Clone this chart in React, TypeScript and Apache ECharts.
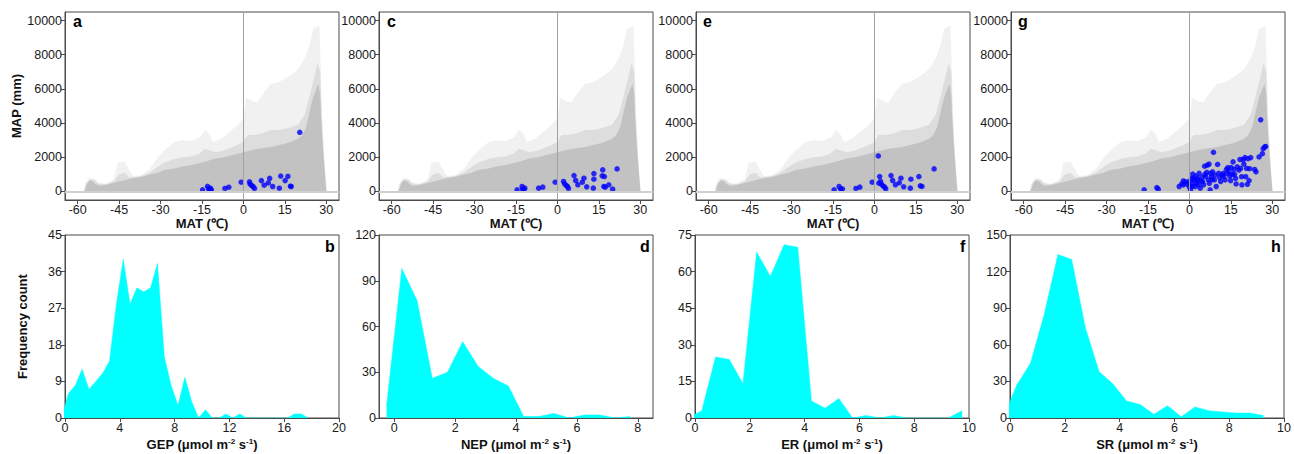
import React, { useEffect, useRef } from "react";
import * as echarts from "echarts";

// ---------- tick labels ----------
const matTicks = [-60, -45, -30, -15, 0, 15, 30];
const mapTicks = [0, 2000, 4000, 6000, 8000, 10000];

// ---------- global climate space (gray cloud envelopes) ----------
const cloudDenseMat = [-57.6, -57.2, -56.5, -55.5, -54.5, -53.5, -52, -50, -47, -45, -42, -40, -37, -34.6, -31, -28.6, -25, -22.5, -19, -16.5, -13, -10.4, -7, -4.3, -2, 0, 2.5, 5.3, 8, 10.1, 12.5, 14.9, 17, 19.8, 21, 22.2, 23, 24, 25.2, 26.4, 27.2, 27.8, 28.2, 28.7, 29.2, 29.6, 30];
const cloudDenseMap = [0, 150, 500, 650, 600, 420, 330, 380, 500, 580, 700, 770, 850, 960, 1100, 1250, 1350, 1440, 1550, 1630, 1780, 1920, 2000, 2115, 2200, 2300, 2400, 2500, 2560, 2600, 2700, 2790, 2900, 3080, 3250, 3560, 3950, 4700, 5500, 6000, 6300, 5600, 4130, 2800, 1630, 800, 0];
const cloudMidMat = [-57.7, -57, -55.5, -54, -52.5, -50, -47, -45, -43, -41.5, -40, -37, -34, -31, -28.6, -25, -22, -19, -16, -14, -12, -10, -7, -4, -1, 0, 1.5, 4, 7, 10, 13, 16, 19.8, 22.2, 24, 25.5, 26.8, 27.8, 28.3, 28.9, 29.5, 30.1];
const cloudMidMap = [0, 450, 720, 680, 450, 420, 580, 1000, 1100, 850, 830, 900, 1100, 1450, 1700, 1900, 2000, 2050, 2200, 2500, 2400, 2300, 2400, 2600, 2800, 2900, 3300, 3300, 3400, 3600, 3600, 3700, 3900, 4500, 5600, 6600, 7500, 7000, 4500, 2600, 1200, 0];
const cloudSparseMat = [-57.8, -57.5, -56, -54, -52.5, -50, -47, -45.5, -43, -41.5, -40, -37, -34, -31, -28.6, -25, -22, -18.8, -15.5, -14, -12.5, -11, -8, -5, -2, 0, 1, 3, 5, 7.5, 10, 13, 17, 20, 22.2, 24, 25.2, 27.5, 28, 28.5, 29.3, 30.2];
const cloudSparseMap = [0, 400, 780, 750, 520, 450, 700, 1700, 1750, 1300, 900, 950, 1300, 2000, 2400, 2900, 3000, 2950, 3200, 3600, 3400, 2900, 3100, 3500, 3900, 4300, 5500, 5300, 5200, 5800, 6300, 6400, 6800, 7200, 7800, 8600, 9500, 9700, 7200, 4500, 2000, 0];

// ---------- flux sites (blue points) ----------
const gepSiteMat = [-14.8, -13, -12.6, -12, -11.6, -12.2, -6.7, -5.3, -0.8, 2.2, 2.4, 2.9, 3.5, 4, 6.5, 7.5, 9, 9.5, 10.6, 13, 13.5, 15.1, 16.1, 17, 17.3, 20.4];
const gepSiteMap = [96, 300, 150, 200, 100, 120, 175, 250, 540, 560, 440, 350, 290, 175, 635, 365, 500, 770, 290, 190, 900, 635, 885, 310, 290, 3460];

const nepSiteMat = [-14.6, -12.8, -12.6, -11.8, -12.2, -6.8, -5.3, -0.8, 2.2, 2.6, 3.2, 3.6, 4, 6, 6.6, 7.4, 9, 9.6, 10.6, 13, 13.2, 13.2, 16.4, 16.2, 17, 16.8, 17.3, 18.6, 20, 21.6];
const nepSiteMap = [97, 290, 136, 194, 100, 194, 252, 544, 583, 447, 350, 291, 175, 932, 641, 388, 544, 777, 272, 194, 1049, 718, 1262, 913, 874, 291, 252, 388, 136, 1320];

const erSiteMat = [-14.6, -12.8, -12.2, -11.6, -6.7, -5.3, -0.8, 1.4, 1.9, 1.6, 2.2, 2.5, 3.1, 3.7, 4.1, 6, 6.6, 7.6, 9, 9.6, 10.6, 13, 13.2, 16.1, 16.6, 17.2, 21.6];
const erSiteMap = [97, 290, 136, 155, 175, 252, 544, 2078, 874, 485, 583, 427, 330, 252, 155, 932, 641, 388, 505, 777, 272, 194, 718, 874, 330, 291, 1320];

const srSiteMat = [-16.4, -11.8, -11.3, -3.7, -2.8, -2.2, -1.4, -1, -0.1, 0.4, 0.8, 1.2, 1.4, 1.8, 2, 2.3, 2.6, 2.9, 3.2, 3.5, 3.9, 4.5, 4.8, 5.1, 5.5, 5.9, 6.3, 6.5, 6.9, 7.1, 7.2, 7.5, 7.7, 8, 8.4, 8.7, 9, 9.3, 9.7, 10.2, 10.6, 10.9, 11.3, 12.2, 12.4, 12.9, 13.4, 13.6, 13.9, 14.3, 14.6, 14.9, 15.1, 15.5, 15.8, 16.1, 16.3, 16.7, 16.9, 17.3, 17.9, 18.3, 18.5, 18.9, 19, 19.5, 19.7, 20.1, 20.4, 20.7, 21, 21.2, 21.6, 21.8, 22.2, 23.6, 24.1, 25.2, 25.8, 26.4, 26.7, 27.2, 27.6, -2.2, 0.8, -0.2, 1.0, 3.0, 4.2, 5.6, 8.2, 11.8];
const srSiteMap = [96, 230, 135, 290, 440, 615, 560, 440, 290, 96, 480, 1020, 770, 635, 290, 900, 480, 675, 385, 1060, 190, 830, 580, 385, 1480, 865, 1115, 1540, 675, 1600, 480, 96, 1060, 865, 1150, 2290, 675, 960, 290, 1580, 1060, 810, 580, 1060, 865, 675, 1290, 1060, 1400, 1150, 900, 635, 1400, 1000, 1730, 1290, 1000, 770, 440, 1440, 1250, 1870, 1350, 865, 385, 1870, 1600, 1980, 865, 1350, 420, 1920, 635, 1330, 1980, 1290, 1150, 2020, 4190, 2210, 2500, 2600, 2635, 385, 770, 580, 300, 750, 600, 1000, 700, 950];

// ---------- frequency distributions ----------
const gepBins = [-0.25, 0.25, 0.75, 1.25, 1.75, 2.25, 2.75, 3.25, 3.75, 4.25, 4.75, 5.25, 5.75, 6.25, 6.75, 7.25, 7.75, 8.25, 8.75, 9.25, 9.75, 10.25, 10.75, 11.25, 11.75, 12.25, 12.75, 13.25, 13.75, 14.25, 14.75, 15.25, 15.75, 16.25, 16.75, 17.25, 17.75];
const gepCount = [0, 6, 8, 12, 7, 9, 11, 14, 28, 39, 28, 32, 31, 32, 38, 15, 8, 3, 10, 4, 0, 2, 0, 0, 1, 0, 1, 0, 0, 0, 0, 0, 0, 0, 1, 1, 0];

const nepBins = [-0.25, 0.25, 0.75, 1.25, 1.75, 2.25, 2.75, 3.25, 3.75, 4.25, 4.75, 5.25, 5.75, 6.25, 6.75, 7.25, 7.75];
const nepCount = [8, 98, 77, 26, 30, 50, 34, 26, 21, 1, 1, 3, 0, 2, 2, 0, 1];

const erBins = [-0.25, 0.25, 0.75, 1.25, 1.75, 2.25, 2.75, 3.25, 3.75, 4.25, 4.75, 5.25, 5.75, 6.25, 6.75, 7.25, 7.75, 8.25, 8.75, 9.25, 9.75];
const erCount = [0, 3, 25, 24, 14, 68, 58, 71, 70, 7, 4, 8, 0, 1, 0, 1, 0, 0, 0, 0, 3];

const srBins = [-0.25, 0.25, 0.75, 1.25, 1.75, 2.25, 2.75, 3.25, 3.75, 4.25, 4.75, 5.25, 5.75, 6.25, 6.75, 7.25, 7.75, 8.25, 8.75, 9.25];
const srCount = [0, 27, 45, 85, 134, 130, 74, 38, 28, 14, 11, 3, 10, 1, 9, 6, 5, 4, 4, 2];

const gepTicks = [0, 4, 8, 12, 16, 20];
const nepTicks = [0, 2, 4, 6, 8];
const tenTicks = [0, 2, 4, 6, 8, 10];

const zip = (a: number[], b: number[]) => a.map((v, i) => [v, b[i]]);

const FONT = "'Liberation Sans', Arial, sans-serif";
const AXC = "#4a4a4a";
const LBL = "#1a1a1a";

const topGrids = [65, 379, 696, 1011];
const botGrids = [65, 379, 695, 1010];

export default function App() {
  const ref = useRef<HTMLDivElement>(null);
  useEffect(() => {
    if (!ref.current) return;
    const chart = echarts.init(ref.current, undefined, { renderer: "svg" });

    const grids: any[] = [];
    const xAxes: any[] = [];
    const yAxes: any[] = [];
    const series: any[] = [];

    const nameStyle = {
      fontFamily: FONT,
      fontWeight: "bold",
      fontSize: 13,
      color: "#111",
      rich: {
        sup: { fontFamily: FONT, fontWeight: "bold", fontSize: 8, color: "#111", verticalAlign: "top", lineHeight: 14 },
      },
    };

    const mkAxis = (idx: number, min: number, max: number, ticks: number[], name: string, gap: number) => ({
      gridIndex: idx,
      type: "value",
      min,
      max,
      name,
      nameLocation: "middle",
      nameGap: gap,
      nameTextStyle: nameStyle,
      axisLine: { show: true, onZero: false, lineStyle: { color: AXC, width: 1 } },
      axisTick: { show: true, customValues: ticks, length: 4, lineStyle: { color: AXC } },
      axisLabel: {
        customValues: ticks, fontSize: 12.5, color: LBL, fontFamily: FONT, margin: 3,
        formatter: (v: number) => String(v),
      },
      splitLine: { show: false },
    });

    const sites = [
      [gepSiteMat, gepSiteMap],
      [nepSiteMat, nepSiteMap],
      [erSiteMat, erSiteMap],
      [srSiteMat, srSiteMap],
    ];

    const cloudLayer = (i: number, mat: number[], map: number[], color: string, z: number) => ({
      type: "line", xAxisIndex: i, yAxisIndex: i, silent: true, z,
      data: zip(mat, map), symbol: "none",
      lineStyle: { width: 0, color }, areaStyle: { color, opacity: 1 },
    });

    topGrids.forEach((left, i) => {
      grids.push({ left, top: 12, width: 274, height: 188, show: true, borderColor: AXC, borderWidth: 1, backgroundColor: "#fff", containLabel: false, outerBoundsMode: "none" });
      xAxes.push(mkAxis(i, -64.6, 34.6, matTicks, "MAT (℃)", 15));
      yAxes.push(mkAxis(i, -500, 10500, mapTicks, i === 0 ? "MAP (mm)" : "", 35));
      series.push(cloudLayer(i, cloudSparseMat, cloudSparseMap, "#f1f1f1", 1));
      series.push(cloudLayer(i, cloudMidMat, cloudMidMap, "#dddddd", 1));
      series.push(cloudLayer(i, cloudDenseMat, cloudDenseMap, "#c2c2c2", 2));
      series.push({
        type: "scatter", xAxisIndex: i, yAxisIndex: i, silent: true, z: 3, data: [],
        markLine: {
          silent: true, symbol: "none", label: { show: false }, animation: false,
          data: [
            { xAxis: 0, lineStyle: { color: "#a0a0a0", width: 1, type: "solid" } },
            { yAxis: 0, lineStyle: { color: "#d0d0d0", width: 2, type: "solid" } },
          ],
        },
      });
      series.push({
        type: "scatter", xAxisIndex: i, yAxisIndex: i, silent: true, z: 4,
        data: zip(sites[i][0], sites[i][1]), symbol: "circle", symbolSize: 5.5,
        itemStyle: { color: "#0000ff" },
      });
    });

    const bot = [
      { bins: gepBins, cnt: gepCount, xmin: 0, xmax: 20, xt: gepTicks, ymax: 45, yt: [0, 9, 18, 27, 36, 45], name: "GEP (μmol m{sup|-2} s{sup|-1})" },
      { bins: nepBins, cnt: nepCount, xmin: -0.5, xmax: 8.5, xt: nepTicks, ymax: 120, yt: [0, 30, 60, 90, 120], name: "NEP (μmol m{sup|-2} s{sup|-1})" },
      { bins: erBins, cnt: erCount, xmin: 0, xmax: 10, xt: tenTicks, ymax: 75, yt: [0, 15, 30, 45, 60, 75], name: "ER (μmol m{sup|-2} s{sup|-1})" },
      { bins: srBins, cnt: srCount, xmin: 0, xmax: 10, xt: tenTicks, ymax: 150, yt: [0, 30, 60, 90, 120, 150], name: "SR (μmol m{sup|-2} s{sup|-1})" },
    ];
    bot.forEach((b, k) => {
      const i = k + 4;
      grids.push({ left: botGrids[k], top: 235, width: 274, height: 183, show: true, borderColor: AXC, borderWidth: 1, backgroundColor: "#fff", containLabel: false, outerBoundsMode: "none" });
      xAxes.push(mkAxis(i, b.xmin, b.xmax, b.xt, b.name, 19));
      yAxes.push(mkAxis(i, 0, b.ymax, b.yt, k === 0 ? "Frequency count" : "", 36));
      series.push({
        type: "line", xAxisIndex: i, yAxisIndex: i, silent: true, z: 2,
        data: zip(b.bins, b.cnt), symbol: "none", clip: true,
        lineStyle: { width: 0.5, color: "#00ffff" }, areaStyle: { color: "#00ffff", opacity: 1 },
      });
    });

    const letter = (t: string, left: number, top: number) => ({
      type: "text", left, top, z: 100,
      style: { text: t, font: `bold 16px ${FONT}`, fill: "#000" },
    });

    chart.setOption({
      animation: false,
      backgroundColor: "#fff",
      textStyle: { fontFamily: FONT },
      grid: grids,
      xAxis: xAxes,
      yAxis: yAxes,
      series,
      graphic: [
        letter("a", 73, 13),
        letter("c", 387, 13),
        letter("e", 703, 13),
        letter("g", 1018, 13),
        letter("b", 325, 238),
        letter("d", 640, 238),
        letter("f", 960, 238),
        letter("h", 1271, 238),
      ],
    });
    return () => chart.dispose();
  }, []);
  return <div ref={ref} style={{ position: "absolute", left: 0, top: 0, width: 1294, height: 454 }} />;
}
